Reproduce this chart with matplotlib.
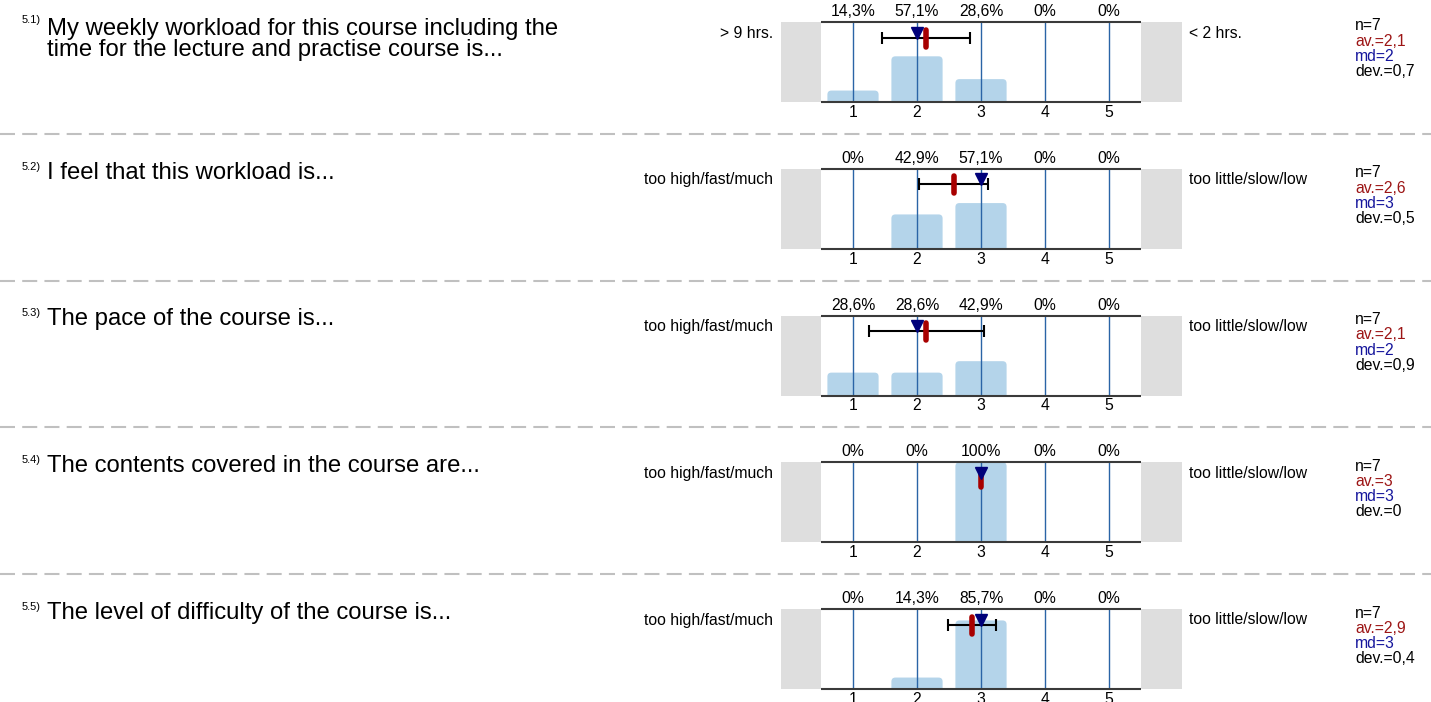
import numpy as np
import matplotlib.pyplot as plt
from matplotlib.lines import Line2D
from matplotlib.patches import FancyBboxPatch

plt.rcParams['font.family'] = ['Liberation Sans', 'DejaVu Sans']
plt.rcParams['lines.scale_dashes'] = False

# survey data (percent of answers per scale value 1..5)
numbers = ['5.1)', '5.2)', '5.3)', '5.4)', '5.5)']
questions = [
	['My weekly workload for this course including the',
	 'time for the lecture and practise course is...'],
	['I feel that this workload is...'],
	['The pace of the course is...'],
	['The contents covered in the course are...'],
	['The level of difficulty of the course is...'],
]
left_labels = ['> 9 hrs.', 'too high/fast/much', 'too high/fast/much', 'too high/fast/much', 'too high/fast/much']
right_labels = ['< 2 hrs.', 'too little/slow/low', 'too little/slow/low', 'too little/slow/low', 'too little/slow/low']
scale = [1, 2, 3, 4, 5]
percents = [
	[14.3, 57.1, 28.6, 0, 0],
	[0, 42.9, 57.1, 0, 0],
	[28.6, 28.6, 42.9, 0, 0],
	[0, 0, 100, 0, 0],
	[0, 14.3, 85.7, 0, 0],
]
n_answers = [7, 7, 7, 7, 7]

W, H = 1431, 702
BAR_COLOR = '#b4d4ea'
GRID_COLOR = '#2a64a6'
GREY = '#dedede'
RED = '#a80000'
NAVY = '#00007a'


def fx(x):
	return x / W


def fy(y):
	return 1 - y / H


def fmt(v):
	"""Format number like the report: 2,1 / 3 / 0"""
	v = round(v, 1)
	if v == int(v):
		return str(int(v))
	return f'{v:.1f}'.replace('.', ',')


def stats(pcts, n):
	counts = [round(p * n / 100) for p in pcts]
	values = np.repeat(scale, counts)
	mean = values.mean()
	sd = values.std(ddof=1) if len(values) > 1 else 0.0
	med = np.median(values)
	return mean, sd, med


fig = plt.figure(figsize=(W / 100, H / 100), dpi=100)

row_top0 = 22
row_step = 146.75
box_h = 80
x_left, x_right = 781, 1182
px_per_unit = 64
small = 11.3

for i in range(len(questions)):
	top = row_top0 + i * row_step

	# dashed separator above the row
	if i > 0:
		ysep = top - 35
		fig.add_artist(Line2D([0, 1], [fy(ysep), fy(ysep)], transform=fig.transFigure,
							  color='#c0c0c0', lw=1.5, dashes=(10.8, 5.2)))

	# question text (two-line questions sit a bit lower)
	shift = 3 if len(questions[i]) > 1 else 0
	fig.text(fx(22), fy(top + 1), numbers[i], fontsize=8, va='baseline', ha='left')
	for k, line in enumerate(questions[i]):
		fig.text(fx(47), fy(top + 10 + shift + 21 * k), line, fontsize=17.2,
				 va='baseline', ha='left')

	# histogram axes
	ax = fig.add_axes([fx(x_left), fy(top + box_h), (x_right - x_left) / W, box_h / H])
	x0 = 0.5 - (821 - x_left) / px_per_unit
	ax.set_xlim(x0, x0 + (x_right - x_left) / px_per_unit)
	ax.set_ylim(0, 100)
	ax.axis('off')

	ax.axvspan(x0, 0.5, color=GREY, lw=0, zorder=0)
	ax.axvspan(5.5, x0 + (x_right - x_left) / px_per_unit, color=GREY, lw=0, zorder=0)

	pcts = percents[i]
	bars = ax.bar(scale, pcts, width=0.8, color=BAR_COLOR, zorder=1)
	# replace plain bars with rounded ones
	r_x = 4 / px_per_unit
	r_y = 4 * 100 / box_h
	for rect in bars:
		h = rect.get_height()
		rect.set_visible(False)
		if h <= 0:
			continue
		rb = FancyBboxPatch((rect.get_x(), -r_y), rect.get_width(), h + r_y,
							boxstyle=f'round,pad=0,rounding_size={r_x}',
							mutation_aspect=r_y / r_x, fc=BAR_COLOR, ec='none', zorder=1)
		ax.add_patch(rb)

	ax.vlines(scale, 0, 100, color=GRID_COLOR, lw=1.0, zorder=2)
	ax.hlines([0, 100], 0.5, 5.5, color='#3a3a3a', lw=1.5, zorder=3, clip_on=False)

	for s, p in zip(scale, pcts):
		ax.text(s, 113, fmt(p) + '%', ha='center', va='center', fontsize=small, clip_on=False)
		ax.text(s, -13, str(s), ha='center', va='center', fontsize=small, clip_on=False)

	mean, sd, med = stats(pcts, n_answers[i])
	y_err = 100 - 15.5 / box_h * 100
	ax.errorbar(mean, y_err, xerr=sd, color='black', lw=1.5, capsize=4, capthick=1.5,
				zorder=4)
	ax.plot([mean, mean], [100 - 7.5 / box_h * 100, 100 - 24.5 / box_h * 100], color=RED,
			lw=4, solid_capstyle='round', zorder=5)
	ax.plot(med, 100 - 10.5 / box_h * 100, marker='v', ms=8, color=NAVY, zorder=6, clip_on=False)

	# side labels
	fig.text(fx(773), fy(top + 11), left_labels[i], ha='right', va='center', fontsize=small)
	fig.text(fx(1189), fy(top + 11), right_labels[i], ha='left', va='center', fontsize=small)

	# stats block
	sx = fx(1355)
	fig.text(sx, fy(top + 4), f'n={n_answers[i]}', fontsize=small, va='center', color='black')
	fig.text(sx, fy(top + 19.5), f'av.={fmt(mean)}', fontsize=small, va='center', color='#9c1515')
	fig.text(sx, fy(top + 34.5), f'md={fmt(med)}', fontsize=small, va='center', color='#15159c')
	fig.text(sx, fy(top + 49.5), f'dev.={fmt(sd)}', fontsize=small, va='center', color='black')

fig.savefig('out.png', dpi=100)
